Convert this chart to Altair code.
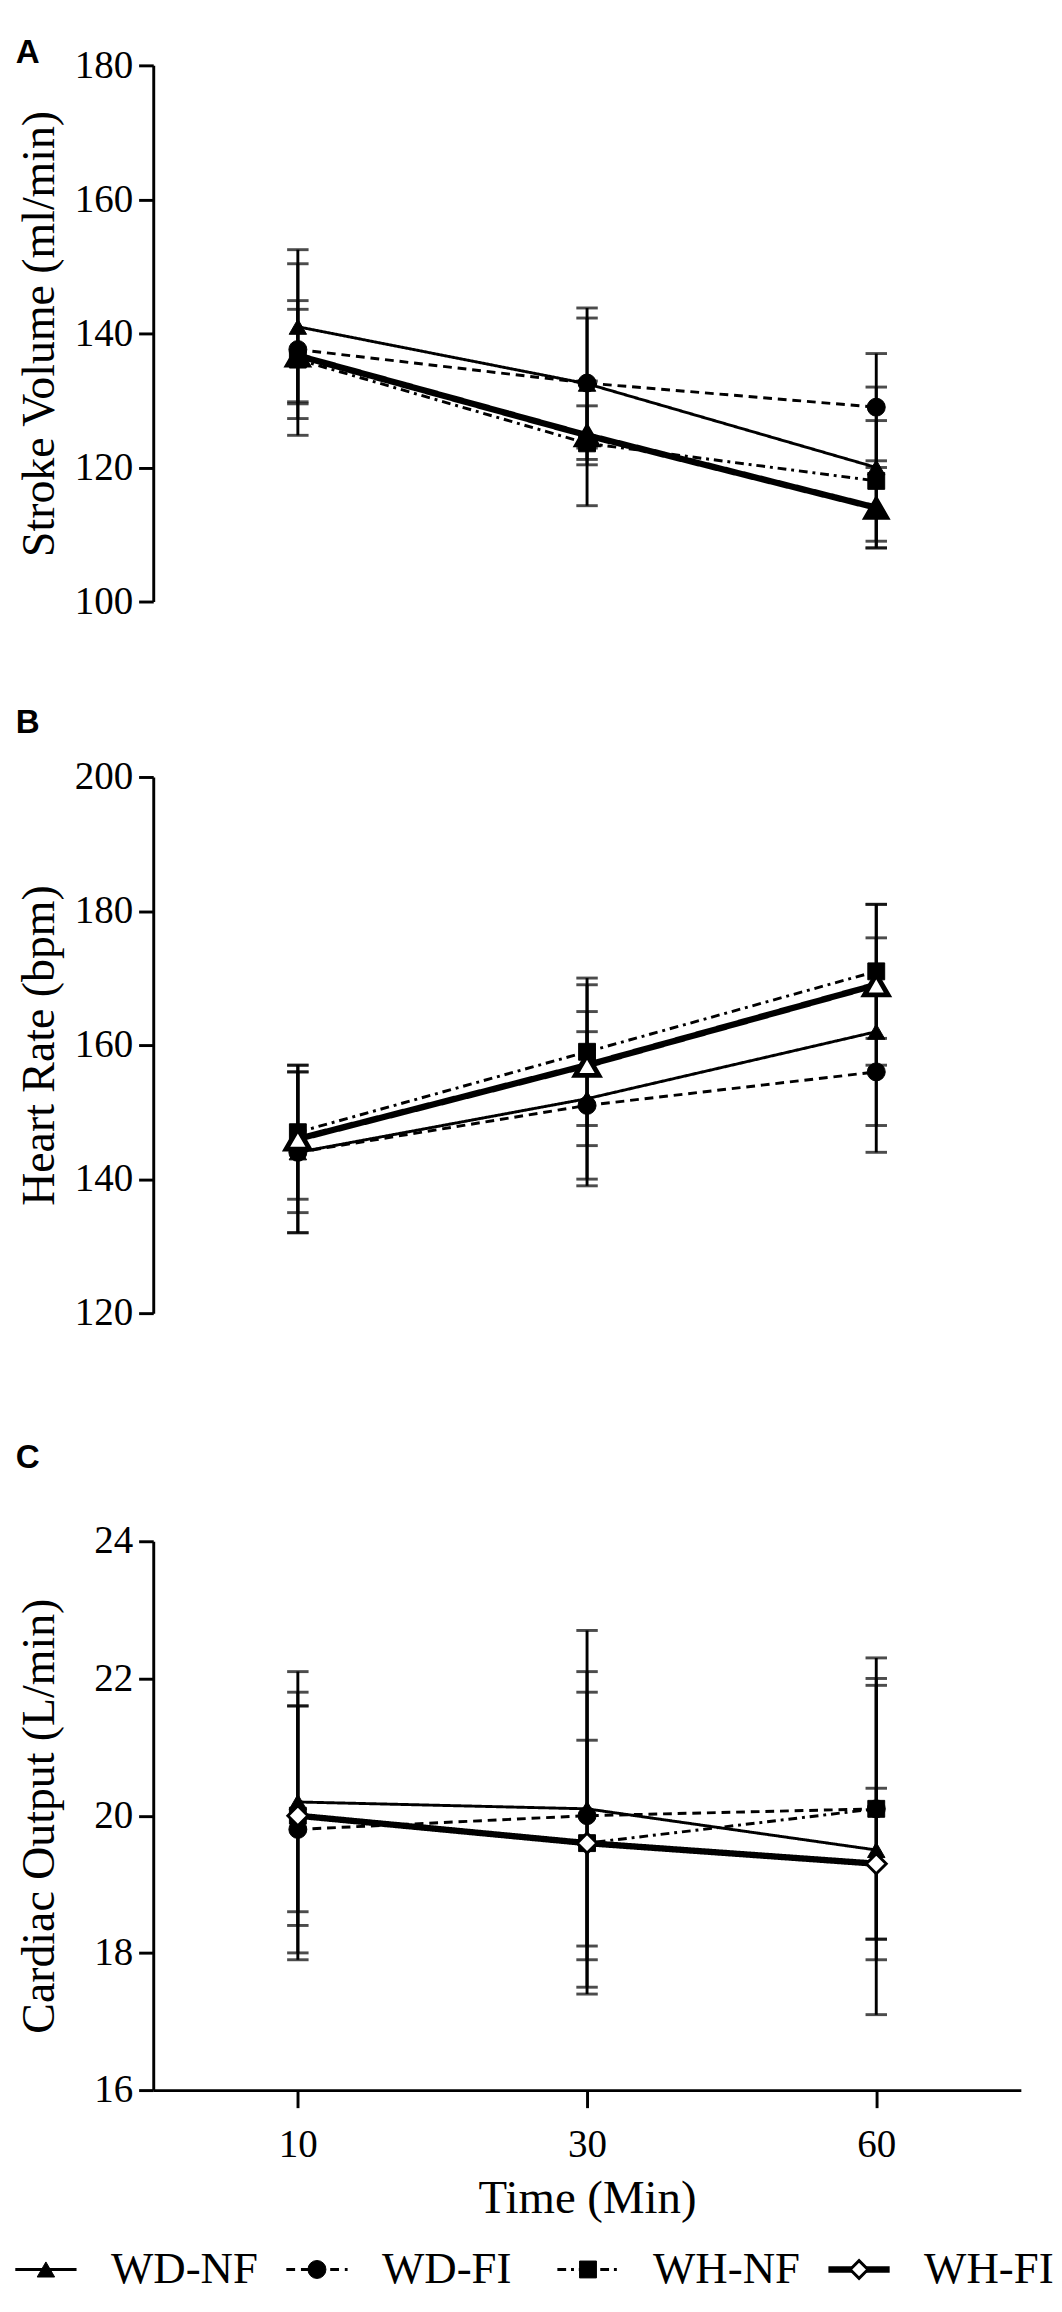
import altair as alt
import pandas as pd

times = ["10", "30", "60"]
groups = ["WD-NF", "WD-FI", "WH-NF", "WH-FI"]
panel_letters = ["A", "B", "C"]

# Panel A - Stroke volume (ml/min): means and SD per group at 10, 30, 60 min
sv_mean_wdnf = [141.0, 132.5, 120.0]
sv_mean_wdfi = [137.6, 132.6, 129.0]
sv_mean_whnf = [136.1, 123.6, 118.0]
sv_mean_whfi = [136.7, 124.8, 114.0]
sv_sd_wdnf = [11.5, 11.3, 12.0]
sv_sd_wdfi = [12.8, 9.7, 8.0]
sv_sd_whnf = [8.8, 9.3, 9.0]
sv_sd_whfi = [6.9, 4.4, 6.0]

# Panel B - Heart rate (bpm)
hr_mean_wdnf = [144.0, 152.0, 162.0]
hr_mean_wdfi = [144.0, 151.0, 156.0]
hr_mean_whnf = [147.0, 159.0, 171.0]
hr_mean_whfi = [146.0, 157.0, 169.0]
hr_sd_wdnf = [12.0, 13.0, 14.0]
hr_sd_wdfi = [12.0, 11.0, 12.0]
hr_sd_whnf = [10.0, 11.0, 10.0]
hr_sd_whfi = [11.0, 12.0, 12.0]

# Panel C - Cardiac output (L/min)
co_mean_wdnf = [20.2, 20.1, 19.5]
co_mean_wdfi = [19.8, 20.0, 20.1]
co_mean_whnf = [20.0, 19.6, 20.1]
co_mean_whfi = [20.0, 19.6, 19.3]
co_sd_wdnf = [1.6, 2.6, 2.4]
co_sd_wdfi = [1.8, 2.1, 1.9]
co_sd_whnf = [2.1, 2.2, 2.2]
co_sd_whfi = [1.6, 1.5, 1.1]

sv_ticks = [100, 120, 140, 160, 180]
hr_ticks = [120, 140, 160, 180, 200]
co_ticks = [16, 18, 20, 22, 24]


def make_frame(means, sds):
    rows = []
    for g, m_list, s_list in zip(groups, means, sds):
        for t, m, s in zip(times, m_list, s_list):
            rows.append({"time": t, "group": g, "mean": m, "lo": m - s, "hi": m + s})
    return pd.DataFrame(rows)


df_sv = make_frame([sv_mean_wdnf, sv_mean_wdfi, sv_mean_whnf, sv_mean_whfi],
                   [sv_sd_wdnf, sv_sd_wdfi, sv_sd_whnf, sv_sd_whfi])
df_hr = make_frame([hr_mean_wdnf, hr_mean_wdfi, hr_mean_whnf, hr_mean_whfi],
                   [hr_sd_wdnf, hr_sd_wdfi, hr_sd_whnf, hr_sd_whfi])
df_co = make_frame([co_mean_wdnf, co_mean_wdfi, co_mean_whnf, co_mean_whfi],
                   [co_sd_wdnf, co_sd_wdfi, co_sd_whnf, co_sd_whfi])

# line / marker styles (not data)
LINE = {
    "WD-NF": {"dash": [1, 0], "width": 3},
    "WD-FI": {"dash": [9, 6], "width": 3},
    "WH-NF": {"dash": [9, 5, 3, 5], "width": 3},
    "WH-FI": {"dash": [1, 0], "width": 6.5},
}
MARK_BASE = {
    "WD-NF": {"shape": "triangle-up", "size": 320, "fill": "black", "sw": 1},
    "WD-FI": {"shape": "circle", "size": 340, "fill": "black", "sw": 1},
    "WH-NF": {"shape": "square", "size": 300, "fill": "black", "sw": 1},
}
WHFI_MARK = {
    "A": {"shape": "triangle-up", "size": 680, "fill": "black", "sw": 2},
    "B": {"shape": "triangle-up", "size": 580, "fill": "white", "sw": 5},
    "C": {"shape": "diamond", "size": 420, "fill": "white", "sw": 3},
}
# panel letter placement (pixels relative to each plot's top-left corner)
LETTER_POS = {"A": -12, "B": -55, "C": -85}

SERIF = "Liberation Serif"
W = 890


def y_axis(title, ticks):
    return alt.Axis(title=title, values=ticks, format="d", grid=False,
                    domainWidth=3, domainColor="black", tickWidth=3, tickColor="black",
                    tickSize=15, labelFontSize=40, labelPadding=6, labelFont=SERIF,
                    labelColor="black", titleFont=SERIF, titleFontSize=47,
                    titleFontWeight="normal", titleColor="black", titlePadding=10,
                    minExtent=82, maxExtent=82, labelFlush=False)


def panel(df, ytitle, domain, ticks, letter, x_axis, height):
    whfi = WHFI_MARK[letter]
    marks = dict(MARK_BASE)
    marks["WH-FI"] = whfi
    yscale = alt.Scale(domain=domain, nice=False, zero=False)
    yax = y_axis(ytitle, ticks)
    base = alt.Chart(df).encode(
        x=alt.X("time:O", sort=times, scale=alt.Scale(type="point", padding=0.5),
                axis=x_axis)
    )
    layers = []
    for g in groups:
        sub = base.transform_filter(alt.datum.group == g)
        layers.append(sub.mark_rule(color="black", strokeWidth=3).encode(
            y=alt.Y("lo:Q", scale=yscale, axis=yax), y2="hi:Q"))
        layers.append(sub.mark_tick(color="black", size=22, thickness=3).encode(
            y=alt.Y("lo:Q", scale=yscale, axis=yax)))
        layers.append(sub.mark_tick(color="black", size=22, thickness=3).encode(
            y=alt.Y("hi:Q", scale=yscale, axis=yax)))
    for g in groups:
        sub = base.transform_filter(alt.datum.group == g)
        st = LINE[g]
        layers.append(sub.mark_line(color="black", strokeWidth=st["width"],
                                    strokeDash=st["dash"]).encode(
            y=alt.Y("mean:Q", scale=yscale, axis=yax)))
    for g in groups:
        sub = base.transform_filter(alt.datum.group == g)
        m = marks[g]
        layers.append(sub.mark_point(shape=m["shape"], size=m["size"], filled=True,
                                     fill=m["fill"], stroke="black",
                                     strokeWidth=m["sw"], opacity=1).encode(
            y=alt.Y("mean:Q", scale=yscale, axis=yax)))
    # panel letter
    layers.append(alt.Chart(pd.DataFrame({"letter": [letter]})).mark_text(
        align="left", baseline="middle", font="Liberation Sans", fontWeight="bold",
        fontSize=34, color="black").encode(
        text="letter:N", x=alt.value(-141), y=alt.value(LETTER_POS[letter])))
    return alt.layer(*layers).properties(width=W, height=height)


def hidden_x(pad):
    return alt.Axis(title=None, domain=False, ticks=False, labelOpacity=0,
                    labelFontSize=38, labelPadding=pad, labelAngle=0, grid=False)


x_axis_c = alt.Axis(title="Time (Min)", domainWidth=3, domainColor="black",
                    tickWidth=3, tickColor="black", tickSize=18, labelFontSize=40,
                    labelFont=SERIF, labelColor="black", labelPadding=18,
                    labelAngle=0, titleFont=SERIF, titleFontSize=48,
                    titleFontWeight="normal", titleColor="black", titlePadding=12,
                    grid=False)

chart_a = panel(df_sv, "Stroke Volume (ml/min)", [100, 180], sv_ticks, panel_letters[0],
                hidden_x(45), 550)
chart_b = panel(df_hr, "Heart Rate (bpm)", [120, 200], hr_ticks, panel_letters[1],
                hidden_x(69), 550)
chart_c = panel(df_co, "Cardiac Output (L/min)", [16, 24], co_ticks, panel_letters[2],
                x_axis_c, 563)

# custom legend (line sample + marker + label), one item per group
leg_df = pd.DataFrame({"group": groups, "idx": [0, 1, 2, 3]})
leg_df["xa"] = leg_df["idx"] - 0.113
leg_df["xb"] = leg_df["idx"] + 0.113
leg_df["xt"] = leg_df["idx"] + 0.24
lx = alt.Scale(domain=[0.396, 3.597])
leg_marks = dict(MARK_BASE)
leg_marks["WH-FI"] = {"shape": "diamond", "size": 330, "fill": "white", "sw": 3}
leg_layers = []
lbase = alt.Chart(leg_df)
for g in groups:
    sub = lbase.transform_filter(alt.datum.group == g)
    st = LINE[g]
    leg_layers.append(sub.mark_rule(color="black", strokeWidth=st["width"],
                                    strokeDash=st["dash"]).encode(
        x=alt.X("xa:Q", scale=lx, axis=None), x2="xb:Q", y=alt.value(20)))
for g in groups:
    sub = lbase.transform_filter(alt.datum.group == g)
    m = leg_marks[g]
    leg_layers.append(sub.mark_point(shape=m["shape"], size=m["size"], filled=True,
                                     fill=m["fill"], stroke="black",
                                     strokeWidth=m["sw"], opacity=1).encode(
        x=alt.X("idx:Q", scale=lx, axis=None), y=alt.value(20)))
leg_layers.append(lbase.mark_text(align="left", baseline="middle", font=SERIF,
                                  fontSize=46, color="black").encode(
    x=alt.X("xt:Q", scale=lx, axis=None), y=alt.value(20), text="group:N"))
legend = alt.layer(*leg_layers).properties(width=W, height=40)

chart = alt.vconcat(chart_a, chart_b, chart_c, legend, spacing=25).properties(
    padding={"left": 5, "top": 0, "right": 0, "bottom": 0}, background="white"
).configure_view(stroke=None)

chart.save("out.html", embed_options={"renderer": "svg", "actions": False})
